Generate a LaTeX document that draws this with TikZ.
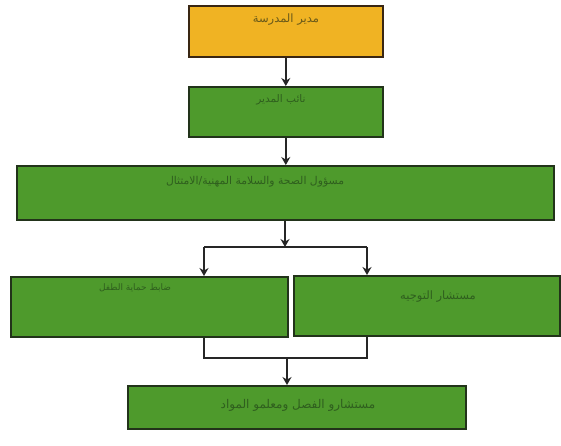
\documentclass[tikz,border=0pt]{standalone}
\usepackage{fontspec}
\newfontfamily\arabicfont[Script=Arabic]{DejaVu Sans}
\TeXXeTstate=1
\usetikzlibrary{arrows.meta}
\definecolor{boxgreen}{HTML}{4E9A2C}
\definecolor{boxorange}{HTML}{F0B323}
\definecolor{edgecol}{HTML}{22331A}
\definecolor{txtgreen}{HTML}{2F5F1E}
\definecolor{txtorange}{HTML}{6A5A1A}
\tikzset{
  orgbox/.style={draw=edgecol, line width=1.6pt, fill=boxgreen, anchor=north west, inner sep=0pt},
  topbox/.style={orgbox, fill=boxorange, draw=black!70!brown},
  lbl/.style={font=\arabicfont\fontsize{11.5}{12}\selectfont, text=txtgreen, inner sep=0pt},
  conn/.style={draw=black!85, line width=1.5pt},
  arr/.style={conn, -{Stealth[length=8pt,width=9pt]}}
}
\begin{document}
\begin{tikzpicture}[x=1pt,y=-1pt]
\fill[white] (0,0) rectangle (561,445);
\useasboundingbox (0,0) rectangle (561,445);
% boxes
\node[topbox, minimum width=194pt, minimum height=51pt] (b1) at (188,5) {};
\node[orgbox, minimum width=194pt, minimum height=50pt] (b2) at (188,86) {};
\node[orgbox, minimum width=537pt, minimum height=54pt] (b3) at (16,165) {};
\node[orgbox, minimum width=277pt, minimum height=60pt] (b4) at (10,276) {};
\node[orgbox, minimum width=266pt, minimum height=60pt] (b5) at (293,275) {};
\node[orgbox, minimum width=338pt, minimum height=43pt] (b6) at (127,385) {};
% labels
\node[lbl, text=txtorange] (t1) at (286,20) {\beginR مدير المدرسة\endR};
\node[lbl, font=\arabicfont\fontsize{10.5}{11}\selectfont] (t2) at (281,100) {\beginR نائب المدير\endR};
\node[lbl, font=\arabicfont\fontsize{10.8}{11}\selectfont] (t3) at (255,182) {\beginR مسؤول الصحة والسلامة المهنية/الامتثال\endR};
\node[lbl, font=\arabicfont\fontsize{9}{10}\selectfont] (t4) at (135,288) {\beginR ضابط حماية الطفل\endR};
\node[lbl] (t5) at (438,297) {\beginR مستشار التوجيه\endR};
\node[lbl, font=\arabicfont\fontsize{12}{13}\selectfont] (t6) at (298,405) {\beginR مستشارو الفصل ومعلمو المواد\endR};
% junction coordinates
\coordinate (j0) at (285,247);
\coordinate (jl) at (204,247);
\coordinate (jr) at (367,247);
\coordinate (kl) at (204,358);
\coordinate (kr) at (367,358);
\coordinate (km) at (287,358);
% connectors
\draw[arr] (b1.south) -- (b1.south |- b2.north);
\draw[arr] (b2.south) -- (b2.south |- b3.north);
\draw[arr] (j0 |- b3.south) -- (j0);
\draw[conn] (jl) -- (jr);
\draw[arr] (jl) -- (jl |- b4.north);
\draw[arr] (jr) -- (jr |- b5.north);
\draw[conn] (kl |- b4.south) -- (kl) -- (kr) -- (kr |- b5.south);
\draw[arr] (km) -- (km |- b6.north);
\end{tikzpicture}
\end{document}
